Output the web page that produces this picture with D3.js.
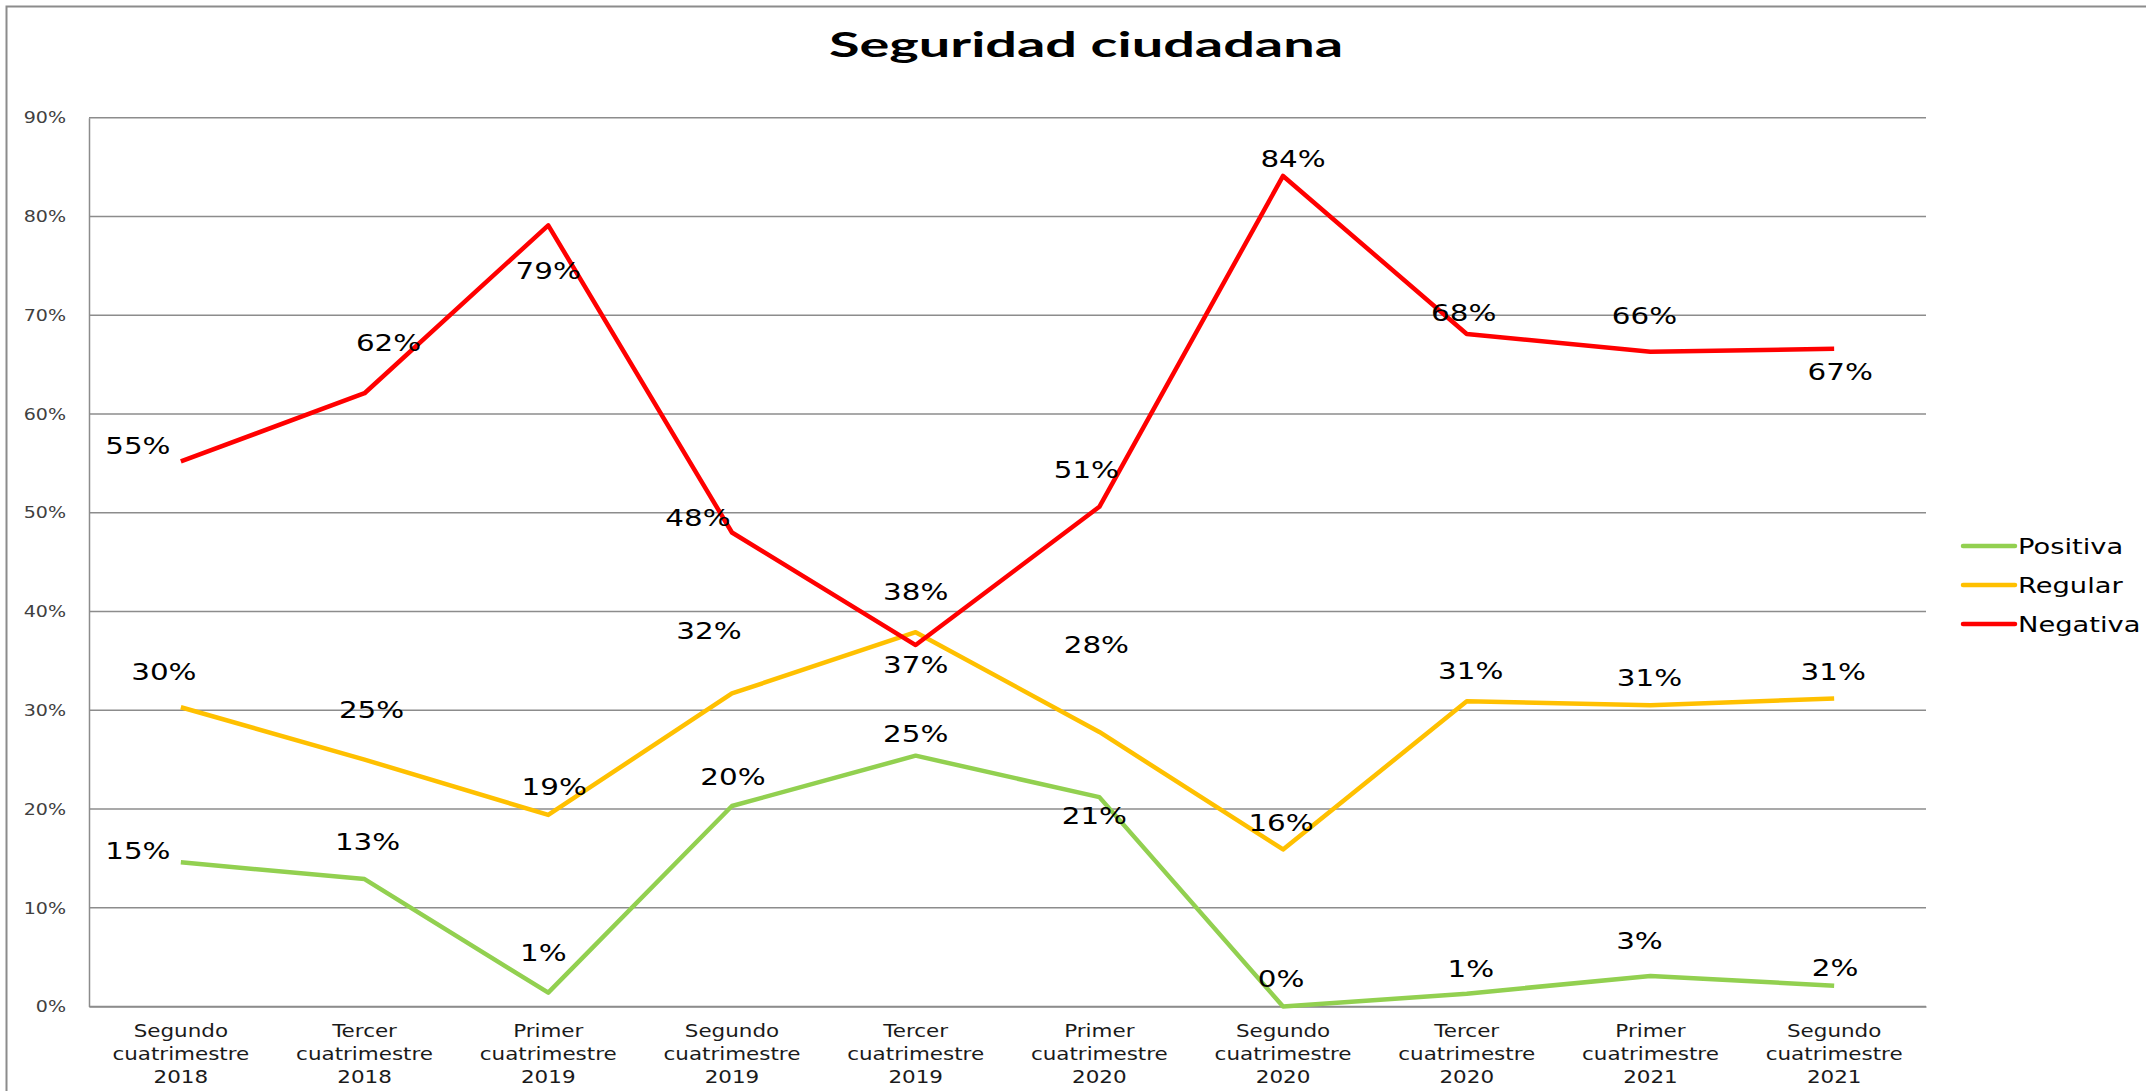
<!DOCTYPE html>
<html>
<head>
<meta charset="utf-8">
<script src="https://cdn.jsdelivr.net/npm/d3@7"></script>
<style>
  html, body { margin: 0; padding: 0; background: #fff; }
  svg { display: block; }
</style>
</head>
<body>
<svg id="chart" width="2146" height="1091"></svg>
<script>
// Survey periods (x axis)
const categories = [
  "Segundo cuatrimestre 2018",
  "Tercer cuatrimestre 2018",
  "Primer cuatrimestre 2019",
  "Segundo cuatrimestre 2019",
  "Tercer cuatrimestre 2019",
  "Primer cuatrimestre 2020",
  "Segundo cuatrimestre 2020",
  "Tercer cuatrimestre 2020",
  "Primer cuatrimestre 2021",
  "Segundo cuatrimestre 2021"
];

// Share of answers per perception, as fractions
const positiva = [0.146, 0.129, 0.014, 0.203, 0.254, 0.212, 0.000, 0.013, 0.031, 0.021];
const regular  = [0.303, 0.250, 0.194, 0.317, 0.379, 0.278, 0.159, 0.309, 0.305, 0.312];
const negativa = [0.552, 0.621, 0.791, 0.480, 0.366, 0.506, 0.841, 0.681, 0.663, 0.666];

const seriesNames = ["Positiva", "Regular", "Negativa"];
const yTicks = [0, 0.1, 0.2, 0.3, 0.4, 0.5, 0.6, 0.7, 0.8, 0.9];

// Placement of each value label relative to its point (label centre, px)
const positivaLabelOffsets = [[-43,-12],[3,-38],[-5,-40],[1,-29],[0,-22],[-5,18],[-2,-28],[4,-25],[-11,-35],[1,-18]];
const regularLabelOffsets  = [[-17,-36],[7,-50],[6,-28],[-23,-63],[0,-41],[-3,-87],[-2,-27],[4,-31],[-1,-28],[-1,-27]];
const negativaLabelOffsets = [[-43,-16],[24,-51],[0,45],[-34,-15],[0,19],[-13,-37],[10,-17],[-3,-21],[-6,-36],[6,23]];

const series = [
  { name: seriesNames[0], values: positiva, color: "#92D050", offsets: positivaLabelOffsets },
  { name: seriesNames[1], values: regular,  color: "#FFC000", offsets: regularLabelOffsets },
  { name: seriesNames[2], values: negativa, color: "#FF0000", offsets: negativaLabelOffsets }
];

const svg = d3.select("#chart");
const W = 2146, H = 1091;
const plot = { left: 89, right: 1926, top: 117.7, bottom: 1006.5 };
const STRETCH = 1.27;
const FONT = "'DejaVu Sans', Verdana, sans-serif";
const pct = d3.format(".0%");

const x = d3.scaleBand().domain(categories).range([plot.left, plot.right]);
const y = d3.scaleLinear().domain([0, 0.9]).range([plot.bottom, plot.top]);
const cx = c => x(c) + x.bandwidth() / 2;

// Chart frame
svg.append("path")
  .attr("d", `M6.5,${H} V6.5 H${W}`)
  .attr("fill", "none").attr("stroke", "#8c8c8c").attr("stroke-width", 2);

// Title
svg.append("text")
  .attr("x", 1086).attr("y", 57)
  .attr("text-anchor", "middle")
  .attr("font-family", "Lato, 'Open Sans', sans-serif")
  .attr("font-weight", 700).attr("font-size", 35)
  .attr("textLength", 514).attr("lengthAdjust", "spacingAndGlyphs")
  .attr("fill", "#000")
  .text("Seguridad ciudadana");

// Horizontal gridlines
svg.append("g").selectAll("line").data(yTicks).join("line")
  .attr("x1", plot.left).attr("x2", plot.right)
  .attr("y1", d => y(d)).attr("y2", d => y(d))
  .attr("stroke", "#8c8c8c").attr("stroke-width", 1.5);

// Value axis
const yAxis = d3.axisLeft(y).tickValues(yTicks).tickFormat(d3.format(".0%")).tickSize(0).tickPadding(0);
const yg = svg.append("g").attr("transform", `translate(${plot.left},0)`).call(yAxis);
yg.select(".domain").attr("stroke", "#8c8c8c").attr("stroke-width", 1.5);
yg.selectAll(".tick text")
  .attr("font-family", FONT).attr("font-size", 15).attr("fill", "#404040")
  .attr("x", 0).attr("dy", "0.35em")
  .attr("transform", `translate(-23,0) scale(${STRETCH},1)`);

// Category axis
const xAxis = d3.axisBottom(x).tickSize(0).tickFormat("");
const xg = svg.append("g").attr("transform", `translate(0,${plot.bottom})`).call(xAxis);
xg.select(".domain").attr("stroke", "#8c8c8c").attr("stroke-width", 1.5);
xg.selectAll(".tick").each(function(d) {
  const words = d.split(" ");
  const t = d3.select(this).append("text")
    .attr("font-family", FONT).attr("font-size", 16.9).attr("fill", "#1a1a1a")
    .attr("text-anchor", "middle")
    .attr("transform", `translate(0,30.5) scale(${STRETCH},1)`);
  words.forEach((w, i) => {
    t.append("tspan").attr("x", 0).attr("y", i * 23).text(w);
  });
});

// Lines
const line = d3.line().x((d, i) => cx(categories[i])).y(d => y(d));
svg.append("g").selectAll("path").data(series).join("path")
  .attr("d", s => line(s.values))
  .attr("fill", "none")
  .attr("stroke", s => s.color)
  .attr("stroke-width", 4.5)
  .attr("stroke-linejoin", "round");

// Value labels
series.forEach(s => {
  svg.append("g").selectAll("text").data(s.values).join("text")
    .attr("text-anchor", "middle")
    .attr("dy", "0.36em")
    .attr("font-family", FONT).attr("font-size", 23.5).attr("fill", "#000")
    .attr("transform", (d, i) =>
      `translate(${cx(categories[i]) + s.offsets[i][0]},${y(d) + s.offsets[i][1]}) scale(${STRETCH - 0.02},1)`)
    .text(d => pct(d));
});

// Legend
const legend = svg.append("g").selectAll("g").data(series).join("g")
  .attr("transform", (s, i) => `translate(1963,${546 + i * 39})`);
legend.append("line")
  .attr("x1", 0).attr("x2", 52).attr("y1", 0).attr("y2", 0)
  .attr("stroke", s => s.color).attr("stroke-width", 4.5).attr("stroke-linecap", "round");
legend.append("text")
  .attr("transform", `translate(55,7.5) scale(1.3,1)`)
  .attr("font-family", FONT).attr("font-size", 21).attr("fill", "#000")
  .text(s => s.name);
</script>
</body>
</html>
